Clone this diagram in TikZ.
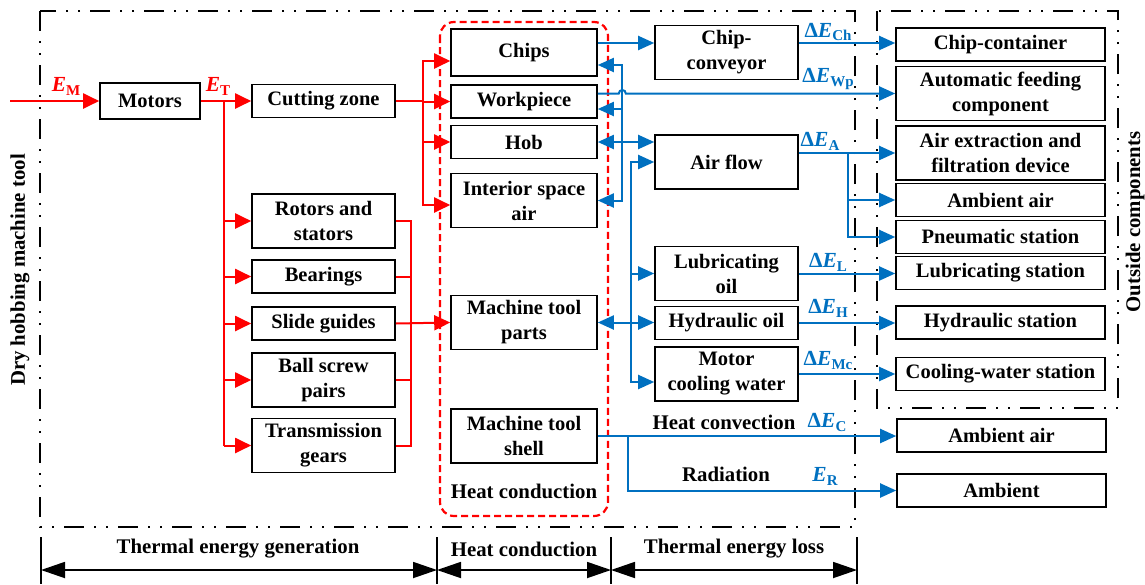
\documentclass[tikz,border=0pt]{standalone}
\usepackage{fontspec}
\setmainfont{Liberation Serif}
\usepackage{tikz}
\usetikzlibrary{positioning,arrows.meta,calc}
\definecolor{hobRed}{HTML}{FF0000}
\definecolor{hobBlue}{HTML}{0070C0}
\newcommand{\lowsub}[1]{\raisebox{-0.4ex}{\fontsize{7.5}{8}\selectfont\upshape\bfseries #1}}
\newcommand{\dE}[1]{Δ\textit{E}\lowsub{#1}}
\newcommand{\sE}[1]{\textit{E}\lowsub{#1}}
\tikzset{
  box/.style={draw, line width=0.8pt, inner sep=1pt, align=center,
    font=\fontsize{10.25}{12.5}\selectfont\bfseries, minimum height=16.5pt},
  tallbox/.style={box, minimum height=27pt},
  genw/.style={minimum width=71.5pt},
  condw/.style={minimum width=73pt},
  lossw/.style={minimum width=71.5pt},
  outw/.style={minimum width=104.5pt},
  txt/.style={font=\fontsize{10.4}{12.5}\selectfont\bfseries, inner sep=0pt},
  redlab/.style={txt, text=hobRed, font=\fontsize{10.75}{12}\selectfont\bfseries},
  bluelab/.style={txt, text=hobBlue, font=\fontsize{10.75}{12}\selectfont\bfseries},
  redline/.style={hobRed, line width=1pt},
  redarr/.style={redline, -{Triangle[length=8pt,width=7.5pt]}},
  blueline/.style={hobBlue, line width=1pt},
  bluearr/.style={blueline, -{Triangle[length=8pt,width=7pt]}},
  bluedbl/.style={blueline, {Triangle[length=8pt,width=7pt]}-{Triangle[length=8pt,width=7pt]}},
  frame/.style={line width=1.1pt, dash pattern=on 10pt off 5pt on 1pt off 5pt on 1pt off 5pt},
  condframe/.style={hobRed, line width=1.1pt, dash pattern=on 3.5pt off 2pt, rounded corners=7pt},
  dimarr/.style={line width=0.9pt, {Triangle[length=12pt,width=8pt]}-{Triangle[length=12pt,width=8pt]}},
}

\begin{document}
\begin{tikzpicture}[x=0.5pt,y=-0.5pt]
\useasboundingbox (0,0) rectangle (1145,584);
% frames
\draw[frame] (40,11) rectangle (855,527);
\draw[frame] (877,11) rectangle (1118,408);
\draw[condframe] (440,22) rectangle (608,516);
\node[txt, rotate=90] (dry) at (20,270) {Dry hobbing machine tool};
\node[txt, rotate=90] (outc) at (1135,222) {Outside components};

% generation
\coordinate (in) at (10,101);
\node[box, minimum width=50pt, minimum height=18pt] (mot) at (150,101) {Motors};
\node[box, genw] (cut) at (323.5,101) {Cutting zone};
\node[tallbox, genw] (rs) at (323.5,221) {Rotors and\\stators};
\node[box, genw] (bear) at (323.5,276.5) {Bearings};
\node[box, genw] (sg) at (323.5,323.5) {Slide guides};
\node[tallbox, genw] (bsp) at (323.5,380) {Ball screw\\pairs};
\node[tallbox, genw] (tg) at (323.5,445.5) {Transmission\\gears};

% conduction
\node[box, condw, minimum height=23.5pt] (chips) at (524,52.5) {Chips};
\node[box, condw] (wp) at (524,101.5) {Workpiece};
\node[box, condw] (hob) at (524,142) {Hob};
\node[tallbox, condw] (isa) at (524,200.5) {Interior space\\air};
\node[tallbox, condw] (mtp) at (524,322.5) {Machine tool\\parts};
\node[tallbox, condw] (shell) at (524,436) {Machine tool\\shell};
\node[txt] (hc) at (524,491) {Heat conduction};

% loss
\node[tallbox, lossw] (cc) at (726.5,52.5) {Chip-\\conveyor};
\node[tallbox, lossw] (af) at (726.5,162) {Air flow};
\node[tallbox, lossw] (lub) at (726.5,273.5) {Lubricating\\oil};
\node[box, lossw] (ho) at (726.5,323) {Hydraulic oil};
\node[tallbox, lossw] (mcw) at (726.5,374) {Motor\\cooling water};

% outside
\node[box, outw] (chc) at (1000.5,44.5) {Chip-container};
\node[tallbox, outw] (afc) at (1000.5,93.5) {Automatic feeding\\component};
\node[tallbox, outw] (aed) at (1000.5,153) {Air extraction and\\filtration device};
\node[box, outw] (amb1) at (1000.5,200) {Ambient air};
\node[box, outw] (pn) at (1000.5,237) {Pneumatic station};
\node[box, outw] (ls) at (1000.5,273) {Lubricating station};
\node[box, outw] (hs) at (1000.5,322.5) {Hydraulic station};
\node[box, outw] (cws) at (1000.5,374) {Cooling-water station};
\node[box, outw] (amb2) at (1001.5,435.5) {Ambient air};
\node[box, outw] (ambt) at (1001.5,490.5) {Ambient};

% red flows
\draw[redarr] (in) -- (mot.west);
\draw[redarr] (mot.east) -- (cut.west);
\node[redlab] (em) at (66,86) {\sE{M}};
\node[redlab] (et) at (218,86) {\sE{T}};
\coordinate (rv) at ($(mot.east)+(23,0)$);
\draw[redline] (rv) -- (rv |- tg.west);
\foreach \n in {rs,bear,sg,bsp,tg}
  \draw[redarr] (rv |- \n.west) -- (\n.west);
\coordinate (rm) at ($(sg.east)+(15,0)$);
\draw[redline] (rs.east) -| (rm |- tg.east) -- (tg.east);
\draw[redline] (bear.east) -- (bear.east -| rm);
\draw[redline] (bsp.east) -- (bsp.east -| rm);
\draw[redarr] (sg.east) -- (mtp.west);
\coordinate (rc) at ($(cut.east)+(27,0)$);
\draw[redarr] (cut.east) -- (rc) |- ($(chips.west)+(0,8.5)$);
\draw[redarr] (rc) |- (wp.west);
\draw[redarr] (rc) |- (hob.west);
\draw[redarr] (rc) |- ($(isa.west)+(0,4.5)$);

% blue flows, inside
\draw[bluedbl] (hob.east) -- (hob.east -| af.west);
\coordinate (bv1) at ($(hob.east)+(24,0)$);
\draw[bluearr] (bv1) |- ($(chips.east)+(0,12.5)$);
\draw[bluearr] (bv1) |- ($(wp.east)+(0,7.5)$);
\draw[bluearr] (bv1) |- (isa.east);
\draw[bluedbl] (mtp.east) -- (mtp.east -| ho.west);
\coordinate (bv2) at ($(mtp.east)+(33,0)$);
\draw[bluearr] (bv2) |- ($(af.west)$);
\draw[bluearr] (bv2) |- (lub.west);
\draw[bluearr] (bv2) |- ($(mcw.west)+(0,8)$);
\draw[bluearr] ($(chips.east)+(0,-9.5)$) coordinate (c1) -- (c1 -| cc.west);
\draw[bluearr] ($(wp.east)+(0,-8)$) -- ++(21,0) arc[start angle=180, end angle=360, radius=3.5] -- (afc.west);

% blue flows, outside
\draw[bluearr] ($(cc.east)+(0,-9.5)$) coordinate (c2) -- (c2 -| chc.west);
\draw[bluearr] ($(af.east)+(0,-9)$) coordinate (a1) -- (a1 -| aed.west);
\coordinate (ab) at ($(a1)+(49,0)$);
\draw[bluearr] (ab) |- (amb1.west);
\draw[bluearr] (ab) |- (pn.west);
\draw[bluearr] (lub.east) -- (lub.east -| ls.west);
\draw[bluearr] (ho.east) -- (ho.east -| hs.west);
\draw[bluearr] (mcw.east) -- (mcw.east -| cws.west);
\draw[bluearr] (shell.east) -- (shell.east -| amb2.west);
\draw[bluearr] ($(shell.east)+(30,0)$) |- (ambt.west);
\node[bluelab] (dch) at (828,32) {\dE{Ch}};
\node[bluelab] (dwp) at (828,79) {\dE{Wp}};
\node[bluelab] (da) at (820,141) {\dE{A}};
\node[bluelab] (dl) at (828,262) {\dE{L}};
\node[bluelab] (dh) at (828,308) {\dE{H}};
\node[bluelab] (dmc) at (828,360) {\dE{Mc}};
\node[bluelab] (dc) at (827,422) {\dE{C}};
\node[bluelab] (er) at (825,476) {\sE{R}};
\node[txt] (hconv) at (724,422) {Heat convection};
\node[txt] (rad) at (726,474) {Radiation};

% stages
\coordinate (d0) at (41,570);
\coordinate (d1) at (437,570);
\coordinate (d2) at (611,570);
\coordinate (d3) at (857,570);
\foreach \d in {d0,d1,d2,d3}
  \draw[line width=1pt] ($(\d)+(0,-33)$) -- ($(\d)+(0,14)$);
\draw[dimarr] (d0) -- (d1);
\draw[dimarr] (d1) -- (d2);
\draw[dimarr] (d2) -- (d3);
\node[txt] (lgen) at (238,549) {Thermal energy generation};
\node[txt] (lcond) at (524,549) {Heat conduction};
\node[txt] (lloss) at (734,549) {Thermal energy loss};
\end{tikzpicture}
\end{document}
